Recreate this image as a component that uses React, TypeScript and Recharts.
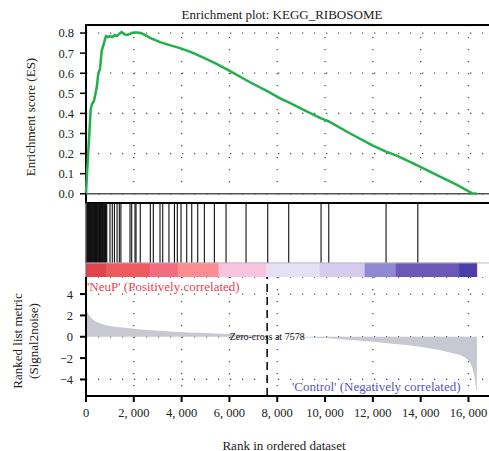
import {
  ComposedChart,
  Line,
  Area,
  XAxis,
  YAxis,
  CartesianGrid,
  ReferenceLine,
  ReferenceArea,
  Label,
} from 'recharts';

const SERIF = 'Liberation Serif, Times New Roman, DejaVu Serif, serif';
const XMAX = 16900;
const ZERO_CROSS = 7578;

const rankTicks = [0, 2000, 4000, 6000, 8000, 10000, 12000, 14000, 16000];
const esTicks = [0, 0.1, 0.2, 0.3, 0.4, 0.5, 0.6, 0.7, 0.8];
const metricTicks = [-4, -2, 0, 2, 4];

// running enrichment score
const esRanks = [
  0, 55, 140, 195, 260, 330, 450, 515, 585, 655, 750, 835, 920, 1000, 1100, 1210, 1300, 1400,
  1490, 1600, 1700, 1841, 1911, 2050, 2120, 2300, 2400, 2700, 3100, 3500, 3930, 4400, 4770,
  5400, 6030, 6860, 7602, 8120, 8480, 9230, 9833, 10155, 11050, 12000, 12552, 13000, 13880,
  14810, 15500, 16140, 16350,
];
const esValues = [
  0, 0.13, 0.3, 0.42, 0.45, 0.46, 0.53, 0.6, 0.62, 0.71, 0.75, 0.785, 0.78, 0.785, 0.78, 0.79,
  0.785, 0.797, 0.805, 0.795, 0.79, 0.795, 0.8, 0.803, 0.803, 0.8, 0.795, 0.775, 0.755, 0.74,
  0.725, 0.705, 0.685, 0.65, 0.61, 0.555, 0.51, 0.475, 0.455, 0.41, 0.375, 0.36, 0.3, 0.24,
  0.21, 0.19, 0.14, 0.085, 0.045, 0.003, 0,
];

// ranked list metric (signal2noise)
const metricRanks = [
  0, 30, 55, 100, 170, 270, 375, 500, 725, 900, 1140, 1500, 1840, 2200, 2540, 2900, 3235, 3600,
  3930, 4300, 4630, 5200, 5740, 6300, 6800, 7200, 7578, 8000, 9230, 10070, 11000, 12020, 12700,
  13420, 13900, 14390, 14800, 15090, 15400, 15650, 15850, 16000, 16100, 16165, 16230, 16280,
  16320, 16350,
];
const metricValues = [
  3.1, 2.6, 2.35, 2.1, 1.88, 1.65, 1.47, 1.33, 1.16, 1.06, 0.97, 0.87, 0.79, 0.7, 0.63, 0.58,
  0.53, 0.48, 0.44, 0.41, 0.38, 0.33, 0.28, 0.22, 0.16, 0.1, 0, -0.02, -0.06, -0.15, -0.28,
  -0.47, -0.62, -0.78, -0.92, -1.09, -1.25, -1.41, -1.57, -1.72, -1.95, -2.19, -2.55, -2.97,
  -3.5, -4.07, -5.0, -5.1,
];

// positions of the gene set members in the ranked list
const hitRanks = [
  4, 18, 35, 52, 70, 92, 110, 128, 150, 168, 190, 215, 236, 258, 280, 305, 322, 350, 372, 395,
  418, 440, 466, 490, 515, 540, 566, 590, 612, 640, 665, 690, 715, 742, 768, 792, 818, 845, 868,
  1004, 1100, 1190, 1300, 1395, 1460, 1841, 1911, 2050, 2092, 2270, 2690, 2816, 3096, 3209,
  3470, 3700, 3820, 3975, 4213, 4423, 4674, 4951, 5370, 5858, 6695, 7602, 8480, 9833, 10155,
  12552, 13880,
];

// heat bar under the hits
const bandStarts = [0, 870, 2680, 3850, 5560, 7560, 9790, 11670, 12970, 15610, 16280];
const bandEnds = [870, 2680, 3850, 5560, 7560, 9790, 11670, 12970, 15610, 16280, 16350];
const bandColors = [
  '#e0454d', '#ee5a5e', '#f36c80', '#fb8e90', '#f8c5de', '#e4e0f5',
  '#d6cbef', '#8f88d3', '#6d58b6', '#4a3fa6', '#5b2aa0',
];

const esData = esRanks.map((rank, i) => ({ rank, es: esValues[i] }));
const metricData = metricRanks.map((rank, i) => ({ rank, metric: metricValues[i] }));
const hitData = hitRanks.map((rank) => ({ rank, y: 1 }));

const BAR_TOP = 0.19;

const tickStyle = { fontSize: 12.5, fontFamily: SERIF, fill: '#222' };

function fmtRank(v: number) {
  if (v === 0) return '0';
  const th = Math.floor(v / 1000);
  return `${th}, ${String(v % 1000).padStart(3, '0')}`;
}

function fmtMetric(v: number) {
  return v < 0 ? `\u2212${Math.abs(v)}` : `${v}`;
}

const textBase: React.CSSProperties = {
  position: 'absolute',
  fontFamily: SERIF,
  whiteSpace: 'nowrap',
  lineHeight: 1,
  color: '#222',
};

function Centered({ x, y, size, rotate, color, children }: any) {
  return (
    <div
      style={{
        ...textBase,
        left: x,
        top: y,
        fontSize: size,
        color: color || '#222',
        transform: `translate(-50%, -50%)${rotate ? ' rotate(-90deg)' : ''}`,
      }}
    >
      {children}
    </div>
  );
}

export default function App() {
  return (
    <div
      style={{
        position: 'absolute',
        left: 0,
        top: 0,
        width: 489,
        height: 451,
        overflow: 'hidden',
        background: '#fff',
        fontFamily: SERIF,
      }}
    >
      {/* enrichment score panel */}
      <div style={{ position: 'absolute', left: 0, top: 0 }}>
        <ComposedChart width={490} height={204} data={esData} margin={{ top: 25, right: 0, bottom: 1, left: 0 }}>
          <XAxis dataKey="rank" type="number" domain={[0, XMAX]} ticks={rankTicks} hide />
          <YAxis
            type="number"
            domain={[-0.046, 0.84]}
            ticks={esTicks}
            width={86}
            axisLine={false}
            tickSize={6}
            tickMargin={6}
            tickLine={{ stroke: '#000', strokeWidth: 1.5 }}
            tick={tickStyle}
            tickFormatter={(v: number) => v.toFixed(1)}
            allowDataOverflow
          />
          <CartesianGrid stroke="#555" strokeWidth={1.3} strokeDasharray="1.3 10.7" />
          <ReferenceLine y={0} stroke="#555" strokeWidth={1.5} />
          <ReferenceArea x1={0} x2={XMAX} y1={-0.046} y2={0.84} fill="none" stroke="#000" strokeWidth={2} />
          <Line
            type="linear"
            dataKey="es"
            stroke="#21b04a"
            strokeWidth={2.5}
            dot={false}
            isAnimationActive={false}
          />
        </ComposedChart>
      </div>

      {/* hits and heat bar */}
      <div style={{ position: 'absolute', left: 0, top: 203 }}>
        <ComposedChart width={490} height={74} data={hitData} margin={{ top: 0, right: 0, bottom: 0, left: 0 }}>
          <XAxis type="number" dataKey="rank" domain={[0, XMAX]} hide />
          <YAxis type="number" dataKey="y" domain={[0, 1]} width={86} tick={false} axisLine={false} tickLine={false} />
          {hitRanks.map((h) => (
            <ReferenceLine
              key={`h${h}`}
              segment={[{ x: h, y: BAR_TOP }, { x: h, y: 1 }]}
              stroke="#111"
              strokeWidth={1.1}
            />
          ))}
          <ReferenceLine y={BAR_TOP} stroke="#bbb" strokeWidth={1} />
          {bandStarts.map((s, i) => (
            <ReferenceArea
              key={`b${i}`}
              x1={s}
              x2={bandEnds[i]}
              y1={0}
              y2={BAR_TOP}
              fill={bandColors[i]}
              fillOpacity={1}
              stroke={bandColors[i]}
              strokeWidth={0.6}
            />
          ))}
          <ReferenceLine x={0} stroke="#777" strokeWidth={1} />
        </ComposedChart>
      </div>

      {/* ranked list metric */}
      <div style={{ position: 'absolute', left: 0, top: 277 }}>
        <ComposedChart width={490} height={174} data={metricData} margin={{ top: 0, right: 0, bottom: 25, left: 0 }}>
          <XAxis
            dataKey="rank"
            type="number"
            domain={[0, XMAX]}
            ticks={rankTicks}
            height={30}
            axisLine={{ stroke: '#000', strokeWidth: 2 }}
            tickLine={{ stroke: '#000', strokeWidth: 2 }}
            tickSize={6}
            tickMargin={6}
            tick={tickStyle}
            tickFormatter={fmtRank}
            allowDataOverflow
          />
          <YAxis
            type="number"
            domain={[-5.55, 5.6]}
            ticks={metricTicks}
            width={86}
            axisLine={{ stroke: '#000', strokeWidth: 2 }}
            tickLine={{ stroke: '#000', strokeWidth: 2 }}
            tickSize={6}
            tickMargin={7}
            tick={tickStyle}
            tickFormatter={fmtMetric}
            allowDataOverflow
          />
          <CartesianGrid stroke="#555" strokeWidth={1.3} strokeDasharray="1.3 10.7" />
          <Area
            type="linear"
            dataKey="metric"
            baseValue={0}
            fill="#c8c8d3"
            fillOpacity={1}
            stroke="none"
            isAnimationActive={false}
          />
          <ReferenceLine x={ZERO_CROSS} stroke="#000" strokeWidth={1.5} strokeDasharray="8 5">
            <Label value="Zero-cross at 7578" position="center" fontSize={10} fontFamily={SERIF} fill="#111" />
          </ReferenceLine>
        </ComposedChart>
      </div>

      <Centered x={282} y={14} size={13}>Enrichment plot: KEGG_RIBOSOME</Centered>
      <Centered x={30} y={117} size={13} rotate>Enrichment score (ES)</Centered>
      <Centered x={17} y={341} size={13} rotate>Ranked list metric</Centered>
      <Centered x={33} y={341} size={13} rotate>(Signal2noise)</Centered>
      <Centered x={284} y={445} size={13}>Rank in ordered dataset</Centered>
      <div style={{ ...textBase, left: 87, top: 280, fontSize: 13, color: '#e8434f' }}>
        'NeuP' (Positively correlated)
      </div>
      <div style={{ ...textBase, left: 292, top: 380, fontSize: 13, color: '#5b52c4' }}>
        'Control' (Negatively correlated)
      </div>
    </div>
  );
}
